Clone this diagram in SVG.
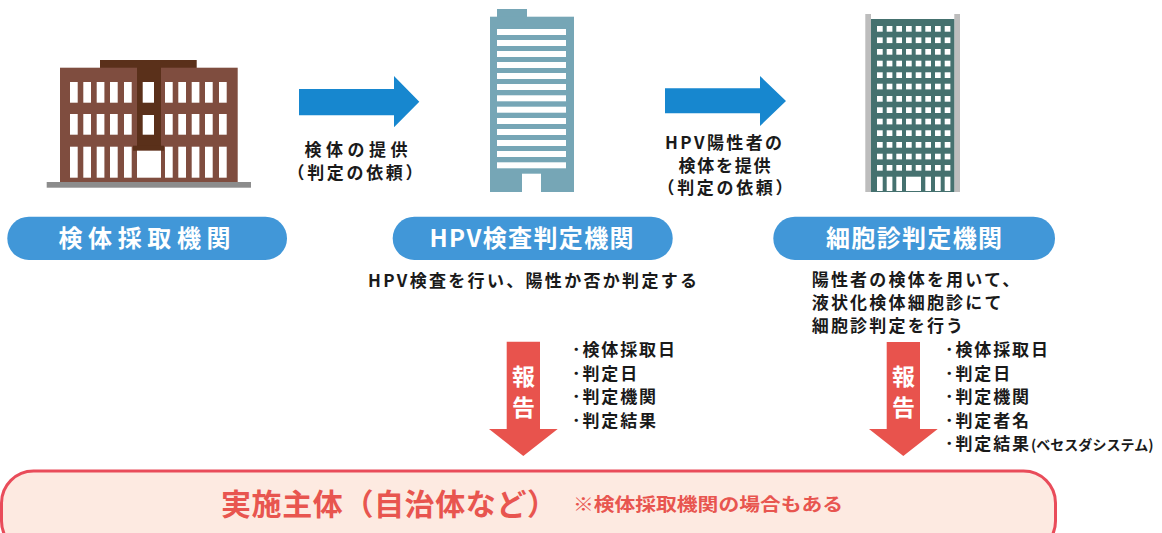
<svg xmlns="http://www.w3.org/2000/svg" width="1162" height="533" viewBox="0 0 1162 533">
  <style>
    .jp { font-family: "Noto Sans CJK JP", "Noto Sans", sans-serif; font-weight: 700; }
    .dark { fill: #1a1a1a; }
    .pill { fill: #4197d8; }
    .pilltxt { fill: #ffffff; font-size: 24px; }
    .flow { fill: #1787cf; }
    .report { fill: #e8534d; }
    .win { fill: #ffffff; }
    .b1 { fill: #7f4d3f; }
    .b1d { fill: #5a301a; }
    .b2 { fill: #76a6b6; }
    .b3 { fill: #45716f; }
    .pole { fill: #bdbdbd; }
    .body { font-size: 17px; }
    .list { font-size: 17px; letter-spacing: 1.9px; }
    .vert { font-size: 23px; fill: #ffffff; writing-mode: vertical-rl; letter-spacing: 8px; }
  </style>

  <!-- collecting institution: brown low-rise -->
  <g id="building-collect">
    <rect x="100" y="60" width="96.7" height="8" class="b1d"/>
    <rect x="60" y="67.7" width="177.7" height="114.3" class="b1"/>
    <rect x="137" y="60" width="24" height="86" class="b1d"/>
    <rect x="133" y="145.7" width="31" height="5" class="b1d"/>
    <rect x="137" y="150.7" width="24" height="27" class="win"/>
    <g class="win">
      <rect x="70" y="82" width="7.7" height="20.7"/><rect x="83.3" y="82" width="7.7" height="20.7"/><rect x="96.7" y="82" width="7.7" height="20.7"/><rect x="110" y="82" width="7.7" height="20.7"/><rect x="124" y="82" width="7.7" height="20.7"/>
      <rect x="70" y="114" width="7.7" height="20.7"/><rect x="83.3" y="114" width="7.7" height="20.7"/><rect x="96.7" y="114" width="7.7" height="20.7"/><rect x="110" y="114" width="7.7" height="20.7"/><rect x="124" y="114" width="7.7" height="20.7"/>
      <rect x="70" y="146.7" width="7.7" height="31"/><rect x="83.3" y="146.7" width="7.7" height="31"/><rect x="96.7" y="146.7" width="7.7" height="31"/><rect x="110" y="146.7" width="7.7" height="31"/><rect x="124" y="146.7" width="7.7" height="31"/>
      <rect x="165" y="82" width="7.7" height="20.7"/><rect x="178.3" y="82" width="7.7" height="20.7"/><rect x="191.7" y="82" width="7.7" height="20.7"/><rect x="205" y="82" width="7.7" height="20.7"/><rect x="219" y="82" width="7.7" height="20.7"/>
      <rect x="165" y="114" width="7.7" height="20.7"/><rect x="178.3" y="114" width="7.7" height="20.7"/><rect x="191.7" y="114" width="7.7" height="20.7"/><rect x="205" y="114" width="7.7" height="20.7"/><rect x="219" y="114" width="7.7" height="20.7"/>
      <rect x="165" y="146.7" width="7.7" height="31"/><rect x="178.3" y="146.7" width="7.7" height="31"/><rect x="191.7" y="146.7" width="7.7" height="31"/><rect x="205" y="146.7" width="7.7" height="31"/><rect x="219" y="146.7" width="7.7" height="31"/>
      <rect x="142.7" y="82" width="11.3" height="20.7"/><rect x="142.7" y="115" width="11.3" height="19.7"/>
    </g>
    <rect x="46.7" y="182" width="204.3" height="5.7" fill="#8c8c8c"/>
  </g>

  <!-- HPV testing institution: blue-grey tower -->
  <g id="building-hpv">
    <rect x="497" y="9" width="30" height="8" class="b2"/>
    <rect x="490" y="16.7" width="84" height="175.3" class="b2"/>
    <g class="win">
      <rect x="497" y="29" width="69" height="6"/><rect x="497" y="40" width="69" height="6"/><rect x="497" y="51" width="69" height="6"/><rect x="497" y="62" width="69" height="6"/><rect x="497" y="73" width="69" height="6"/><rect x="497" y="84" width="69" height="6"/><rect x="497" y="95.3" width="69" height="6"/><rect x="497" y="106.7" width="69" height="6"/><rect x="497" y="118" width="69" height="6"/><rect x="497" y="129" width="69" height="6"/><rect x="497" y="140" width="69" height="6"/><rect x="497" y="151" width="69" height="6"/><rect x="497" y="162.3" width="69" height="6"/>
      <rect x="522" y="173.7" width="19" height="18.3"/>
    </g>
  </g>

  <!-- cytology institution: teal tower with grid windows -->
  <g id="building-cyto">
    <rect x="865.3" y="14" width="5.7" height="178" class="pole"/>
    <rect x="954.3" y="14" width="5.7" height="178" class="pole"/>
    <rect x="871" y="19" width="83.3" height="173" class="b3"/>
    <g class="win">
      <g id="wrow">
        <rect x="877" y="26" width="5.7" height="5.7"/><rect x="886.7" y="26" width="5.7" height="5.7"/><rect x="896.3" y="26" width="5.7" height="5.7"/><rect x="906" y="26" width="5.7" height="5.7"/><rect x="915.7" y="26" width="5.7" height="5.7"/><rect x="925.3" y="26" width="5.7" height="5.7"/><rect x="935" y="26" width="5.7" height="5.7"/><rect x="944.7" y="26" width="5.7" height="5.7"/>
      </g>
      <use href="#wrow" y="11.4"/><use href="#wrow" y="23"/><use href="#wrow" y="34.7"/><use href="#wrow" y="46.3"/><use href="#wrow" y="57.7"/><use href="#wrow" y="70"/><use href="#wrow" y="81.3"/><use href="#wrow" y="92.7"/><use href="#wrow" y="104.3"/><use href="#wrow" y="116"/><use href="#wrow" y="127.7"/><use href="#wrow" y="139"/>
      <rect x="877" y="176.7" width="5.7" height="14.3"/><rect x="886.7" y="176.7" width="5.7" height="14.3"/><rect x="896.3" y="176.7" width="5.7" height="14.3"/>
      <rect x="906" y="176.7" width="15" height="14.3"/>
      <rect x="925.3" y="176.7" width="5.7" height="14.3"/><rect x="935" y="176.7" width="5.7" height="14.3"/><rect x="944.7" y="176.7" width="5.7" height="14.3"/>
    </g>
  </g>

  <!-- institution labels -->
  <g id="node-collect">
    <rect x="7.3" y="216.7" width="279.7" height="43.3" rx="21.6" class="pill"/>
    <text x="58.5" y="246.5" class="jp pilltxt" font-size="22" textLength="172" lengthAdjust="spacing">検体採取機関</text>
  </g>
  <g id="node-hpv">
    <rect x="392.7" y="216.7" width="280" height="43.3" rx="21.6" class="pill"/>
    <text x="429.5" y="247" class="jp pilltxt" textLength="204" lengthAdjust="spacing">HPV検査判定機関</text>
    <text x="368" y="287" class="jp dark body" textLength="329" lengthAdjust="spacing">HPV検査を行い、陽性か否か判定する</text>
  </g>
  <g id="node-cyto">
    <rect x="773.3" y="216.7" width="281.7" height="43.3" rx="21.6" class="pill"/>
    <text x="826" y="247" class="jp pilltxt" textLength="176" lengthAdjust="spacing">細胞診判定機関</text>
    <text class="jp dark body" letter-spacing="2.2">
      <tspan x="811.7" y="286">陽性者の検体を用いて、</tspan>
      <tspan x="811.7" y="308.8">液状化検体細胞診にて</tspan>
      <tspan x="811.7" y="331.6">細胞診判定を行う</tspan>
    </text>
  </g>

  <!-- implementing body -->
  <g id="node-municipality">
    <rect x="1.5" y="471" width="1054" height="82" rx="32" fill="#fdeae1" stroke="#e94c5a" stroke-width="3"/>
    <text x="221" y="515" class="jp" font-size="30" fill="#e8554f" textLength="336" lengthAdjust="spacing">実施主体（自治体など）</text>
    <text x="573" y="511" class="jp" font-size="18" fill="#e8554f" textLength="270" lengthAdjust="spacingAndGlyphs">※検体採取機関の場合もある</text>
  </g>

  <!-- connectors -->
  <g id="connectors">
    <g id="flow-1">
      <polygon points="299,89 394,89 394,76 419.3,101.7 394,127.3 394,115.3 299,115.3" class="flow"/>
      <text x="304.5" y="156.4" class="jp dark body" textLength="103" lengthAdjust="spacing">検体の提供</text>
      <text x="287.5" y="179.2" class="jp dark body" textLength="135" lengthAdjust="spacing">（判定の依頼）</text>
    </g>
    <g id="flow-2">
      <polygon points="665,88.3 760,88.3 760,76 786,101 760,126 760,113.3 665,113.3" class="flow"/>
      <text x="665" y="148.5" class="jp dark body" textLength="117" lengthAdjust="spacing">HPV陽性者の</text>
      <text x="678.5" y="171.5" class="jp dark body" textLength="92" lengthAdjust="spacing">検体を提供</text>
      <text x="657.5" y="194.3" class="jp dark body" textLength="135" lengthAdjust="spacing">（判定の依頼）</text>
    </g>
    <g id="report-1">
      <polygon points="506.7,341.7 540,341.7 540,429 557.7,429 523.3,456 489,429 506.7,429" class="report"/>
      <text x="523.5" y="365" class="jp vert">報告</text>
      <text class="jp dark list">
        <tspan x="572" y="356">･検体採取日</tspan>
        <tspan x="572" y="379.5">･判定日</tspan>
        <tspan x="572" y="403">･判定機関</tspan>
        <tspan x="572" y="426.5">･判定結果</tspan>
      </text>
    </g>
    <g id="report-2">
      <polygon points="886.7,342 920,342 920,429 937.7,429 903.3,456 869,429 886.7,429" class="report"/>
      <text x="903.5" y="365" class="jp vert">報告</text>
      <text class="jp dark list">
        <tspan x="945" y="356">･検体採取日</tspan>
        <tspan x="945" y="379.5">･判定日</tspan>
        <tspan x="945" y="403">･判定機関</tspan>
        <tspan x="945" y="426.5">･判定者名</tspan>
        <tspan x="945" y="450">･判定結果<tspan font-size="14" letter-spacing="0">(ベセスダシステム)</tspan></tspan>
      </text>
    </g>
  </g>
</svg>
